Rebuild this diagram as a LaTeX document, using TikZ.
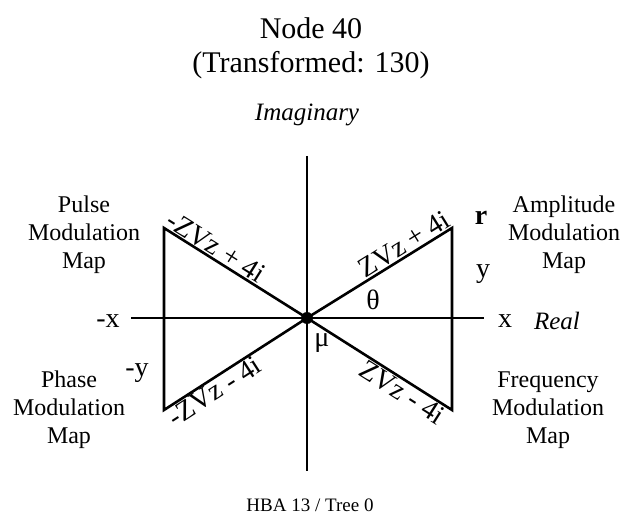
\documentclass[tikz,border=0pt]{standalone}
\usepackage{fontspec}
\setmainfont{Liberation Serif}
\usetikzlibrary{positioning}
\tikzset{
  axis/.style={line width=2.6pt},
  wing/.style={line width=2.6pt,line join=miter},
  dot/.style={circle,fill,inner sep=0pt,minimum size=12pt},
  heading/.style={align=center,font=\fontsize{30}{34}\selectfont},
  maplabel/.style={align=center,font=\fontsize{24}{28}\selectfont},
  tag/.style={font=\fontsize{28}{30}\selectfont,inner sep=1pt},
  edge label/.style={sloped,font=\fontsize{28}{30}\selectfont,inner sep=2pt},
  footer/.style={font=\fontsize{19}{22}\selectfont},
}
\begin{document}
\begin{tikzpicture}[x=1pt,y=-1pt]
  \useasboundingbox (0,0) rectangle (621,529);
  % axes and the two wings
  \coordinate (o) at (307,318);
  \coordinate (top) at (307,156);
  \coordinate (bot) at (307,471);
  \coordinate (west) at (131,318);
  \coordinate (east) at (484,318);
  \coordinate (ul) at (164,228);
  \coordinate (ll) at (164,410);
  \coordinate (ur) at (452,228);
  \coordinate (lr) at (452,410);
  \draw[axis] (top) -- (bot);
  \draw[axis] (west) -- (east);
  \draw[wing] (o) -- (ul) -- (ll) -- cycle;
  \draw[wing] (o) -- (ur) -- (lr) -- cycle;
  \node[dot] (origin) at (o) {};
  % labels along the wings
  \path (o) -- node[edge label,above,pos=0.71] (ez1) {ZVz + 4i} (ur);
  \path (o) -- node[edge label,below,pos=0.70] (ez2) {ZVz - 4i} (lr);
  \path (ul) -- node[edge label,above,pos=0.32] (ez3) {-ZVz + 4i} (o);
  \path (ll) -- node[edge label,below,pos=0.31] (ez4) {-ZVz - 4i} (o);
  % texts
  \node[heading] (title) at (311,48) {Node 40\\(Transformed: 130)};
  \node[tag,font=\fontsize{25}{30}\selectfont\itshape] (imag) at (307,115) {Imaginary};
  \node[tag,font=\fontsize{25}{30}\selectfont\itshape] (real) at (557,321) {Real};
  \node[tag] (xpos) at (505,321) {x};
  \node[tag] (xneg) at (108,321) {-x};
  \node[tag] (ypos) at (483,274) {y};
  \node[tag] (yneg) at (137,373) {-y};
  \node[tag,font=\fontsize{28}{30}\selectfont\bfseries] (rad) at (481,218) {r};
  \node[tag] (theta) at (373,300) {θ};
  \node[tag] (mu) at (322,343) {μ};
  \node[maplabel] (pulse) at (84,235) {Pulse\\Modulation\\Map};
  \node[maplabel] (amp) at (564,235) {Amplitude\\Modulation\\Map};
  \node[maplabel] (phase) at (69,410) {Phase\\Modulation\\Map};
  \node[maplabel] (freq) at (548,410) {Frequency\\Modulation\\Map};
  \node[footer] (foot) at (310,505) {HBA 13 / Tree 0};
\end{tikzpicture}
\end{document}
